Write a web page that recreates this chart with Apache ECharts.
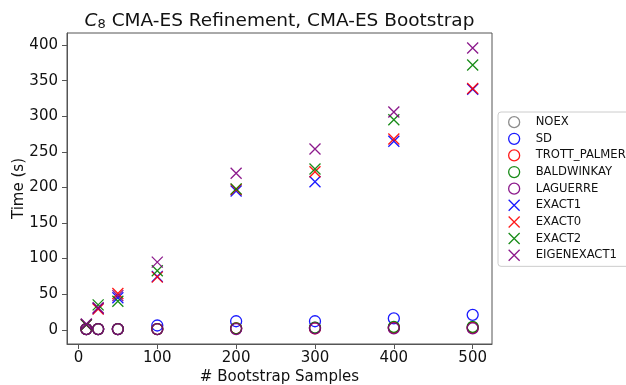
<!DOCTYPE html>
<html>
<head>
<meta charset="utf-8">
<script src="https://cdn.jsdelivr.net/npm/echarts@6/dist/echarts.min.js"></script>
<style>
html, body { margin: 0; padding: 0; background: #fff; }
#chart { width: 626px; height: 385px; }
</style>
</head>
<body>
<div id="chart"></div>
<script>
// Number of bootstrap samples on the x axis
const samples = [10, 25, 50, 100, 200, 300, 400, 500];

// Run times (s) per method
const NOEX         = [1, 1, 1, 1, 2, 3, 3, 3];
const SD           = [1, 1, 1, 6, 12, 12, 16, 21];
const TROTT_PALMER = [1, 1, 1, 1, 2, 2, 3, 3];
const BALDWINKAY   = [1, 1, 1, 1, 2, 3, 4, 4];
const LAGUERRE     = [1, 1, 1, 1, 1, 2, 2, 2];
const EXACT1       = [7, 30, 45, 75, 195, 208, 265, 338];
const EXACT0       = [7, 29, 51, 74, 197, 222, 268, 339];
const EXACT2       = [7, 35, 40, 83, 198, 226, 295, 372];
const EIGENEXACT1  = [8, 31, 48, 95, 220, 254, 306, 396];

// Tick labels
const xTicks = [0, 100, 200, 300, 400, 500];
const yTicks = [0, 50, 100, 150, 200, 250, 300, 350, 400];

const FONT = 'DejaVu Sans';
const CROSS = 'path://M0,0L10,10M10,0L0,10';

const methods = [
  { name: 'NOEX',         data: NOEX,         color: '#808080', symbol: 'circle' },
  { name: 'SD',           data: SD,           color: '#0000ff', symbol: 'circle' },
  { name: 'TROTT_PALMER', data: TROTT_PALMER, color: '#ff0000', symbol: 'circle' },
  { name: 'BALDWINKAY',   data: BALDWINKAY,   color: '#008000', symbol: 'circle' },
  { name: 'LAGUERRE',     data: LAGUERRE,     color: '#800080', symbol: 'circle' },
  { name: 'EXACT1',       data: EXACT1,       color: '#0000ff', symbol: CROSS },
  { name: 'EXACT0',       data: EXACT0,       color: '#ff0000', symbol: CROSS },
  { name: 'EXACT2',       data: EXACT2,       color: '#008000', symbol: CROSS },
  { name: 'EIGENEXACT1',  data: EIGENEXACT1,  color: '#800080', symbol: CROSS }
];

const series = methods.map(m => ({
  type: 'scatter',
  name: m.name,
  symbol: m.symbol,
  symbolSize: 11,
  data: samples.map((x, i) => [x, m.data[i]]),
  itemStyle: {
    color: 'rgba(0,0,0,0)',
    borderColor: m.color,
    borderWidth: 1.3,
    opacity: 0.9
  },
  emphasis: { disabled: true }
}));

const chart = echarts.init(document.getElementById('chart'), null, { renderer: 'canvas' });
chart.setOption({
  animation: false,
  backgroundColor: '#fff',
  title: {
    text: '{c|C}{s|8} CMA-ES Refinement, CMA-ES Bootstrap',
    left: 279.5,
    textAlign: 'center',
    top: 11,
    padding: 0,
    textStyle: {
      fontFamily: FONT,
      fontSize: 18.5,
      fontWeight: 'normal',
      color: '#111',
      rich: {
        c: { fontFamily: FONT, fontSize: 18.5, fontStyle: 'italic', color: '#111' },
        s: { fontFamily: FONT, fontSize: 13, color: '#111', padding: [7, 0, 0, 0] }
      }
    }
  },
  grid: {
    left: 67, right: 134, top: 33, bottom: 41,
    show: true,
    borderColor: '#555',
    borderWidth: 1,
    containLabel: false,
    outerBoundsMode: 'none'
  },
  xAxis: {
    type: 'value',
    min: -14.5,
    max: 524.5,
    name: '# Bootstrap Samples',
    nameLocation: 'middle',
    nameGap: 26,
    nameMoveOverlap: false,
    nameTextStyle: { fontFamily: FONT, fontSize: 15, color: '#111' },
    axisLine: { show: true, onZero: false, lineStyle: { color: '#555', width: 1 } },
    axisTick: { show: true, inside: false, length: 5, lineStyle: { color: '#555' }, customValues: xTicks },
    axisLabel: { fontFamily: FONT, fontSize: 15, color: '#111', margin: 7, customValues: xTicks },
    splitLine: { show: false }
  },
  yAxis: {
    type: 'value',
    min: -20,
    max: 417,
    name: 'Time (s)',
    nameLocation: 'middle',
    nameGap: 40,
    nameRotate: 90,
    nameMoveOverlap: false,
    nameTextStyle: { fontFamily: FONT, fontSize: 15, color: '#111' },
    axisLine: { show: true, onZero: false, lineStyle: { color: '#555', width: 1 } },
    axisTick: { show: true, inside: false, length: 5, lineStyle: { color: '#555' }, customValues: yTicks },
    axisLabel: { fontFamily: FONT, fontSize: 15, color: '#111', margin: 9, customValues: yTicks },
    splitLine: { show: false }
  },
  legend: {
    orient: 'vertical',
    left: 498,
    top: 112,
    padding: [4, 40, 5, 10],
    itemWidth: 33,
    itemHeight: 11,
    itemGap: 4.33,
    symbolKeepAspect: true,
    backgroundColor: '#fff',
    borderColor: '#cccccc',
    borderWidth: 1,
    borderRadius: 3,
    itemStyle: { borderWidth: 1.3 },
    textStyle: { fontFamily: FONT, fontSize: 11.6, lineHeight: 11, color: '#111' },
    selectedMode: false,
    data: methods.map(m => m.name)
  },
  series: series
});
</script>
</body>
</html>
